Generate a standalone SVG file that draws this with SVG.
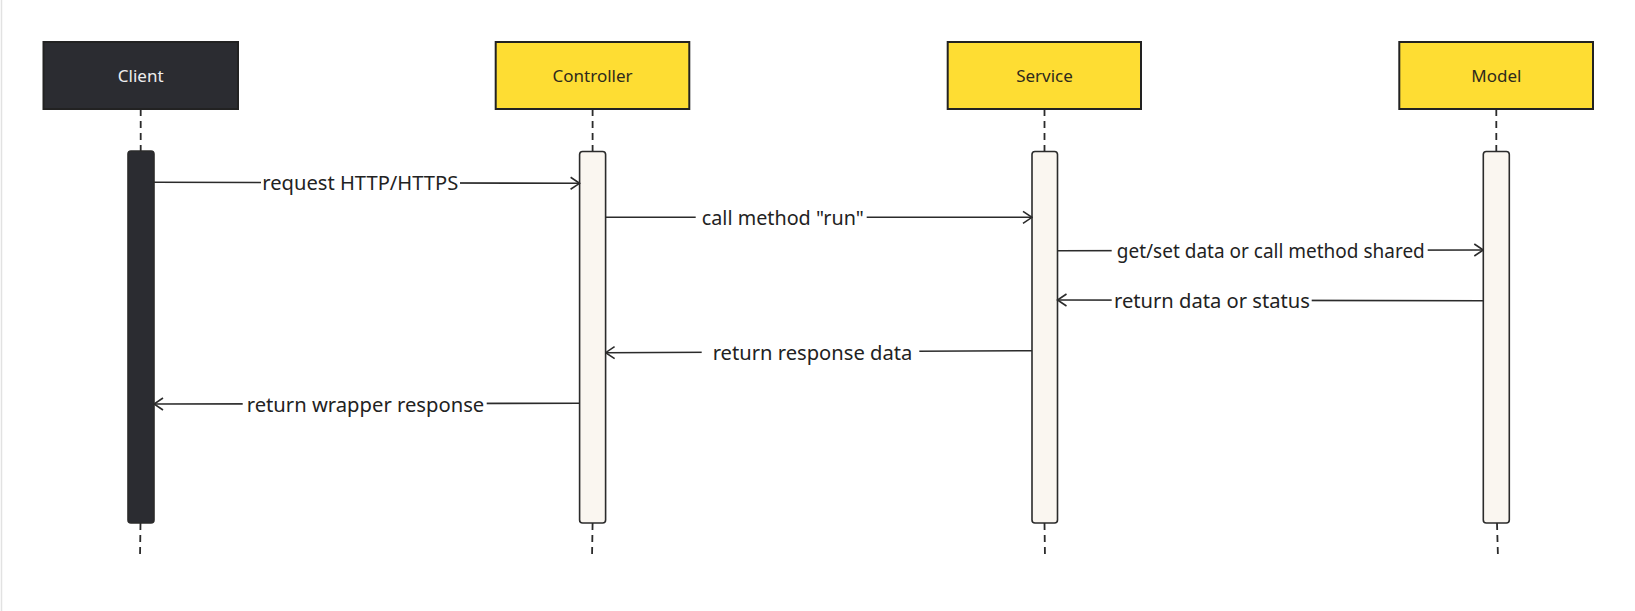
<svg xmlns="http://www.w3.org/2000/svg" width="1635" height="611" viewBox="0 0 1635 611">
  <style>
    .box { stroke: #222222; stroke-width: 2; }
    .dark { fill: #2b2c31; }
    .yellow { fill: #fedd33; }
    .bar { fill: #faf6f0; stroke: #2b2b2b; stroke-width: 1.6; }
    .bar.darkbar { fill: #2b2c31; }
    .life { stroke: #2b2b2b; stroke-width: 1.8; stroke-dasharray: 7 5; fill: none; }
    .name { font-family: "Noto Sans", "Open Sans", sans-serif; font-size: 17px; text-anchor: middle; }
    .name.light { fill: #eeeeee; }
    .name.ink { fill: #2e2a1c; }
    .msg { stroke: #2b2b2b; stroke-width: 1.6; fill: none; marker-end: url(#open); }
    .lbl { font-family: "Noto Sans", "Open Sans", sans-serif; font-size: 20px; fill: #222222; text-anchor: middle; }
    .lblbg { fill: #ffffff; }
  </style>
  <defs>
    <marker id="open" viewBox="0 0 12 14" refX="11" refY="7" markerWidth="12" markerHeight="14" markerUnits="userSpaceOnUse" orient="auto">
      <path d="M2 1 L11 7 L2 13" fill="none" stroke="#2b2b2b" stroke-width="1.6"/>
    </marker>
  </defs>
  <rect x="0" y="0" width="1635" height="611" fill="#ffffff"/>
  <line x1="1.5" y1="0" x2="1.5" y2="611" stroke="#e2e2e2" stroke-width="1.5"/>

  <g id="lifelines">
    <line class="life" x1="140.7" y1="109" x2="140.7" y2="151"/>
    <line class="life" x1="140.5" y1="523" x2="140" y2="558"/>
    <line class="life" x1="592.6" y1="109" x2="592.6" y2="151"/>
    <line class="life" x1="592.6" y1="523" x2="592" y2="558"/>
    <line class="life" x1="1044.5" y1="109" x2="1044.5" y2="151"/>
    <line class="life" x1="1044.5" y1="523" x2="1045" y2="558"/>
    <line class="life" x1="1496.3" y1="109" x2="1496.3" y2="151"/>
    <line class="life" x1="1497" y1="523" x2="1498" y2="558"/>
  </g>

  <g id="client">
    <rect class="box dark" x="43.5" y="42" width="194.5" height="67"/>
    <text class="name light" x="140.7" y="81.5">Client</text>
    <rect class="bar darkbar" x="128" y="151" width="26" height="372" rx="3"/>
  </g>
  <g id="controller">
    <rect class="box yellow" x="495.7" y="42" width="193.6" height="67"/>
    <text class="name ink" x="592.6" y="81.5">Controller</text>
    <rect class="bar" x="579.6" y="151.5" width="26" height="371.5" rx="3"/>
  </g>
  <g id="service">
    <rect class="box yellow" x="947.7" y="42" width="193.3" height="67"/>
    <text class="name ink" x="1044.5" y="81.5">Service</text>
    <rect class="bar" x="1032" y="151.5" width="25.5" height="371.5" rx="3"/>
  </g>
  <g id="model">
    <rect class="box yellow" x="1399.3" y="42" width="193.7" height="67"/>
    <text class="name ink" x="1496.3" y="81.5">Model</text>
    <rect class="bar" x="1483.3" y="151.5" width="26" height="371.5" rx="3"/>
  </g>

  <g id="connectors">
    <path class="msg" d="M154 182.3 L579.6 183.3"/>
    <rect class="lblbg" x="261" y="170" width="199" height="26"/>
    <text class="lbl" x="360.3" y="190" textLength="196" lengthAdjust="spacingAndGlyphs">request HTTP/HTTPS</text>

    <path class="msg" d="M605.6 217.3 L1032 217.3"/>
    <rect class="lblbg" x="695.7" y="205" width="171" height="26"/>
    <text class="lbl" x="782.8" y="224.8" textLength="162" lengthAdjust="spacingAndGlyphs">call method "run"</text>

    <path class="msg" d="M1057.5 250.7 L1483.3 250"/>
    <rect class="lblbg" x="1111.7" y="238" width="316" height="26"/>
    <text class="lbl" x="1270.8" y="258" textLength="308" lengthAdjust="spacingAndGlyphs">get/set data or call method shared</text>

    <path class="msg" d="M1483.3 300.7 L1057.5 300"/>
    <rect class="lblbg" x="1111.7" y="288" width="200" height="26"/>
    <text class="lbl" x="1212" y="308" textLength="196" lengthAdjust="spacingAndGlyphs">return data or status</text>

    <path class="msg" d="M1032 350.7 L605.6 352.7"/>
    <rect class="lblbg" x="701.7" y="338" width="217.6" height="26"/>
    <text class="lbl" x="812.5" y="359.5" textLength="199.6" lengthAdjust="spacingAndGlyphs">return response data</text>

    <path class="msg" d="M579.6 403.3 L154 404"/>
    <rect class="lblbg" x="242.7" y="391" width="244" height="26"/>
    <text class="lbl" x="365.5" y="411.5" textLength="237.6" lengthAdjust="spacingAndGlyphs">return wrapper response</text>
  </g>
</svg>
